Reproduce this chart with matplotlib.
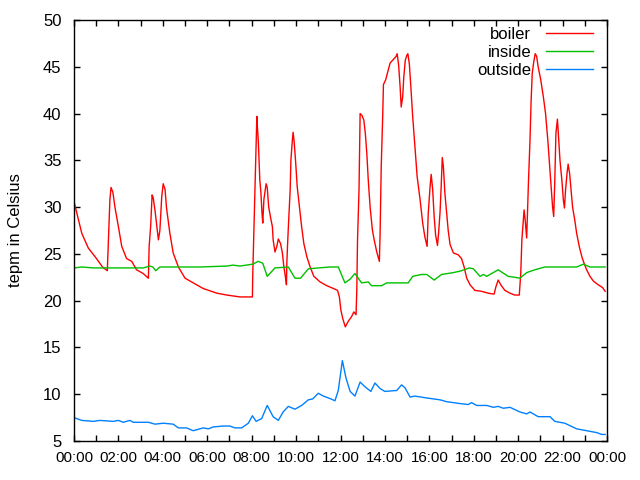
import matplotlib
matplotlib.use("Agg")
import matplotlib.pyplot as plt

# times as HH:MM, temperatures in Celsius
boiler_times = [
    "00:00", "00:21", "00:39", "00:57", "01:17", "01:30", "01:33", "01:37", "01:40", "01:45",
    "01:51", "02:00", "02:09", "02:22", "02:36", "02:49", "03:07", "03:21", "03:23", "03:27",
    "03:31", "03:34", "03:39", "03:43", "03:48", "03:52", "03:57", "04:01", "04:06", "04:10",
    "04:19", "04:28", "04:42", "05:00", "05:22", "05:49", "06:26", "06:53", "07:28", "08:02",
    "08:03", "08:06", "08:09", "08:12", "08:14", "08:15", "08:18", "08:22", "08:25", "08:28",
    "08:30", "08:33", "08:39", "08:42", "08:46", "08:51", "08:56", "08:58", "09:03", "09:08",
    "09:12", "09:18", "09:23", "09:27", "09:31", "09:34", "09:35", "09:37", "09:40", "09:44",
    "09:46", "09:50", "09:52", "09:55", "09:59", "10:03", "10:09", "10:15", "10:21", "10:29",
    "10:38", "10:48", "11:05", "11:23", "11:41", "11:52", "11:57", "12:01", "12:06", "12:13",
    "12:21", "12:30", "12:36", "12:42", "12:44", "12:46", "12:50", "12:53", "12:58", "13:03",
    "13:07", "13:11", "13:15", "13:20", "13:26", "13:31", "13:38", "13:45", "13:47", "13:50",
    "13:54", "13:56", "14:02", "14:08", "14:14", "14:23", "14:30", "14:33", "14:37", "14:41",
    "14:44", "14:48", "14:51", "14:55", "14:59", "15:02", "15:06", "15:10", "15:15", "15:21",
    "15:27", "15:35", "15:42", "15:48", "15:54", "15:57", "16:02", "16:05", "16:09", "16:13",
    "16:17", "16:22", "16:25", "16:29", "16:32", "16:35", "16:38", "16:42", "16:47", "16:51",
    "16:56", "17:05", "17:18", "17:27", "17:34", "17:41", "17:50", "18:03", "18:21", "18:39",
    "18:55", "19:00", "19:06", "19:13", "19:24", "19:38", "19:51", "20:03", "20:07", "20:10",
    "20:16", "20:19", "20:23", "20:28", "20:32", "20:35", "20:38", "20:42", "20:46", "20:50",
    "20:54", "21:01", "21:08", "21:14", "21:20", "21:24", "21:29", "21:33", "21:36", "21:39",
    "21:42", "21:46", "21:48", "21:53", "21:58", "22:02", "22:05", "22:08", "22:12", "22:15",
    "22:19", "22:23", "22:27", "22:33", "22:38", "22:45", "22:52", "22:58", "23:05", "23:14",
    "23:23", "23:36", "23:48", "23:55",
]
boiler = [
    30.6, 27.2, 25.6, 24.7, 23.6, 23.2, 26.6, 30.8, 32.1, 31.6,
    29.9, 27.9, 25.8, 24.5, 24.2, 23.3, 22.9, 22.4, 25.8, 27.9,
    31.3, 31.0, 29.6, 28.2, 26.5, 27.5, 31.1, 32.5, 31.9, 29.9,
    27.2, 25.1, 23.6, 22.4, 21.9, 21.3, 20.8, 20.6, 20.4, 20.4,
    22.9, 27.6, 32.6, 37.4, 39.7, 38.9, 37.0, 32.9, 31.5, 29.3,
    28.3, 30.8, 32.5, 32.1, 30.0, 28.9, 27.9, 26.5, 25.2, 25.8,
    26.6, 26.1, 25.1, 23.6, 22.6, 21.7, 24.0, 26.0, 28.6, 31.8,
    35.0, 37.2, 38.0, 36.9, 34.7, 32.2, 30.0, 27.9, 26.1, 24.7,
    23.6, 22.6, 22.0, 21.6, 21.3, 21.1, 20.4, 19.0, 18.1, 17.2,
    17.8, 18.3, 18.8, 18.5, 21.1, 26.5, 31.8, 40.0, 39.8, 39.3,
    37.9, 35.8, 32.9, 30.0, 27.6, 26.5, 25.2, 24.2, 27.2, 34.3,
    39.7, 43.1, 43.6, 44.5, 45.4, 45.8, 46.1, 46.4, 45.2, 42.9,
    40.7, 41.8, 43.9, 45.7, 46.2, 46.4, 45.3, 42.9, 39.7, 36.5,
    33.3, 30.8, 28.3, 26.8, 25.8, 29.3, 32.2, 33.5, 31.9, 29.0,
    27.0, 25.9, 27.2, 29.5, 32.2, 35.3, 34.3, 31.5, 29.3, 27.5,
    26.0, 25.1, 24.9, 24.5, 23.6, 22.4, 21.7, 21.1, 21.0, 20.8,
    20.7, 21.5, 22.2, 21.7, 21.1, 20.8, 20.6, 20.6, 22.9, 26.5,
    29.7, 28.6, 26.7, 32.9, 37.2, 41.4, 44.3, 45.5, 46.4, 46.1,
    45.0, 43.6, 41.8, 40.0, 37.2, 35.0, 32.2, 30.0, 29.0, 32.9,
    37.9, 39.4, 38.2, 35.0, 32.9, 30.8, 29.9, 31.8, 33.6, 34.6,
    33.6, 31.8, 30.0, 28.6, 27.2, 25.8, 24.7, 24.0, 23.3, 22.6,
    22.1, 21.7, 21.4, 21.0,
]

inside_times = [
    "00:00", "00:21", "00:52", "01:45", "03:07", "03:25", "03:33", "03:41", "03:52", "05:04",
    "05:40", "06:53", "07:10", "07:28", "08:03", "08:18", "08:30", "08:42", "09:03", "09:39",
    "09:57", "10:12", "10:33", "11:00", "11:32", "11:54", "12:12", "12:26", "12:39", "12:57",
    "13:15", "13:24", "13:51", "14:05", "14:32", "15:03", "15:15", "15:39", "15:53", "16:13",
    "16:33", "17:05", "17:27", "17:48", "17:59", "18:17", "18:26", "18:35", "19:06", "19:33",
    "19:51", "20:05", "20:23", "20:45", "21:12", "21:44", "22:38", "22:56", "23:14", "23:55",
]
inside = [
    23.5, 23.6, 23.5, 23.5, 23.5, 23.7, 23.6, 23.2, 23.6, 23.6,
    23.6, 23.7, 23.8, 23.7, 23.9, 24.2, 24.0, 22.6, 23.5, 23.6,
    22.4, 22.4, 23.4, 23.5, 23.6, 23.6, 21.9, 22.3, 22.9, 21.9,
    22.0, 21.6, 21.6, 21.9, 21.9, 21.9, 22.6, 22.8, 22.8, 22.2,
    22.8, 23.0, 23.2, 23.5, 23.4, 22.6, 22.8, 22.6, 23.3, 22.6,
    22.5, 22.4, 23.0, 23.3, 23.6, 23.6, 23.6, 23.9, 23.6, 23.6,
]

outside_times = [
    "00:00", "00:21", "00:52", "01:10", "01:46", "02:00", "02:13", "02:31", "02:40", "03:21",
    "03:39", "04:01", "04:28", "04:42", "05:04", "05:22", "05:49", "06:03", "06:16", "06:43",
    "07:01", "07:15", "07:33", "07:51", "08:02", "08:12", "08:27", "08:42", "08:58", "09:12",
    "09:25", "09:39", "09:57", "10:15", "10:33", "10:45", "11:00", "11:14", "11:34", "11:45",
    "11:54", "12:05", "12:15", "12:26", "12:39", "12:53", "13:06", "13:22", "13:33", "13:47",
    "14:00", "14:32", "14:45", "14:54", "15:08", "15:21", "15:53", "16:29", "16:47", "17:23",
    "17:45", "17:54", "18:08", "18:35", "18:53", "19:06", "19:20", "19:38", "20:05", "20:23",
    "20:32", "20:54", "21:26", "21:39", "22:06", "22:38", "23:05", "23:32", "23:46", "23:55",
]
outside = [
    7.5, 7.2, 7.1, 7.2, 7.1, 7.2, 7.0, 7.2, 7.0, 7.0,
    6.8, 6.9, 6.8, 6.4, 6.4, 6.1, 6.4, 6.3, 6.5, 6.6,
    6.6, 6.4, 6.4, 6.9, 7.7, 7.1, 7.4, 8.8, 7.6, 7.2,
    8.1, 8.7, 8.4, 8.8, 9.4, 9.5, 10.1, 9.8, 9.5, 9.3,
    10.4, 13.6, 11.7, 10.3, 9.8, 11.3, 10.8, 10.3, 11.2, 10.6,
    10.3, 10.4, 11.0, 10.7, 9.7, 9.8, 9.6, 9.4, 9.2, 9.0,
    8.9, 9.1, 8.8, 8.8, 8.6, 8.7, 8.5, 8.6, 8.1, 7.9,
    8.1, 7.6, 7.6, 7.1, 6.9, 6.3, 6.1, 5.9, 5.7, 5.7,
]

tick_labels = ["00:00", "02:00", "04:00", "06:00", "08:00", "10:00", "12:00",
               "14:00", "16:00", "18:00", "20:00", "22:00", "00:00"]


def to_hours(times):
    return [int(t[:2]) + int(t[3:]) / 60 for t in times]


plt.rcParams.update({'font.family': 'Liberation Sans', 'font.size': 12})

fig = plt.figure(figsize=(6.4, 4.8), dpi=100)
ax = fig.add_axes([74 / 640, 39 / 480, 533 / 640, 421 / 480])

ax.plot(to_hours(boiler_times), boiler, color='#ff0000', lw=1.0, label='boiler')
ax.plot(to_hours(inside_times), inside, color='#00c000', lw=1.0, label='inside')
ax.plot(to_hours(outside_times), outside, color='#0080ff', lw=1.0, label='outside')

ax.set_xlim(0, 24)
ax.set_ylim(5, 50)
ax.set_xticks(range(0, 25, 2))
ax.set_xticklabels(tick_labels)
ax.set_xticks(range(0, 25), minor=True)
ax.set_yticks(range(5, 51, 5))
ax.tick_params(which='both', direction='in', top=True, right=True, length=4, width=1)
ax.tick_params(axis='x', pad=7, labelsize=10.8)
ax.tick_params(axis='y', pad=9)
for sp in ax.spines.values():
    sp.set_linewidth(1.0)

ax.set_ylabel('tepm in Celsius', labelpad=14)

ax.legend(loc='upper right', bbox_to_anchor=(0.995, 1.012), frameon=False,
          markerfirst=False, handlelength=2.8, labelspacing=0.2, borderaxespad=0.3,
          handletextpad=0.9)

fig.savefig('out.png', dpi=100)
